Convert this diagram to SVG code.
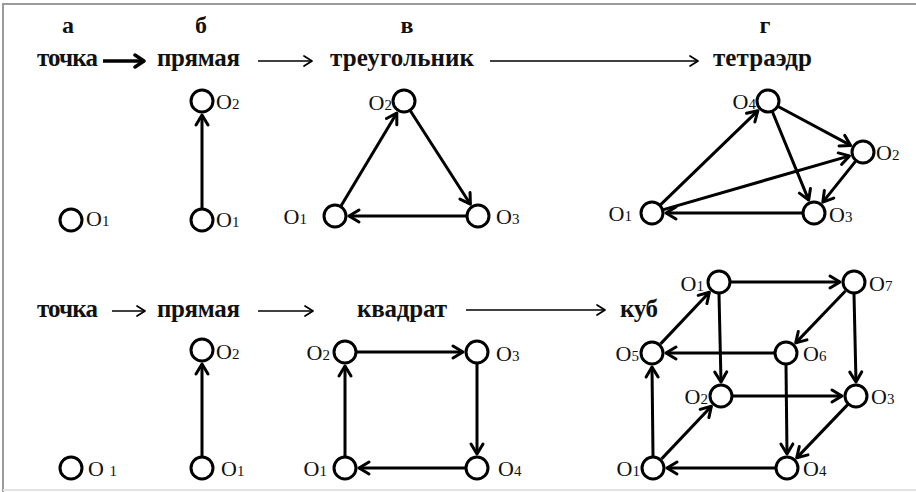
<svg xmlns="http://www.w3.org/2000/svg" width="916" height="492" viewBox="0 0 916 492">
<style>
.bg{fill:#ffffff}
.frame{stroke:#9a9a9a;stroke-width:2;fill:none}
.frame2{stroke:#e3e3e3;stroke-width:2;fill:none}
.t{font-family:"Liberation Serif","Times New Roman",serif;font-size:25px;font-weight:bold;fill:#111}
.h{font-family:"Liberation Serif","Times New Roman",serif;font-size:24px;font-weight:bold;fill:#111;text-anchor:middle}
.l{font-family:"Liberation Serif","Times New Roman",serif;font-size:22px;fill:#111}
.r{text-anchor:end}
.s{font-size:15px}
.n{fill:#ffffff;stroke:#000;stroke-width:3}
.e{stroke:#000;stroke-width:3;fill:none;marker-end:url(#ah)}
.ta{stroke:#000;stroke-width:1.6;fill:none;marker-end:url(#ahs)}
.tb{stroke:#000;stroke-width:3.5;fill:none;marker-end:url(#ahb)}
</style>
<defs>
<marker id="ah" viewBox="-13 -9 16 18" refX="0" refY="0" markerWidth="16" markerHeight="18" markerUnits="userSpaceOnUse" orient="auto">
<path d="M-10,-6 L0,0 L-10,6" fill="none" stroke="#000" stroke-width="3" stroke-linecap="round" stroke-linejoin="round"/>
</marker>
<marker id="ahs" viewBox="-12 -8 14 16" refX="0" refY="0" markerWidth="14" markerHeight="16" markerUnits="userSpaceOnUse" orient="auto">
<path d="M-8,-5 L0,0 L-8,5" fill="none" stroke="#000" stroke-width="1.7" stroke-linecap="round" stroke-linejoin="round"/>
</marker>
<marker id="ahb" viewBox="-14 -9 16 18" refX="0" refY="0" markerWidth="16" markerHeight="18" markerUnits="userSpaceOnUse" orient="auto">
<path d="M-9,-6 L0,0 L-9,6" fill="none" stroke="#000" stroke-width="3.5" stroke-linecap="round" stroke-linejoin="round"/>
</marker>
</defs>
<rect class="bg" x="0" y="0" width="916" height="492"/>
<path class="frame" d="M3,492 L3,4 L916,4"/>
<path class="frame2" d="M3,490 L916,490"/>

<g id="titles">
<text class="h" x="68" y="33">а</text>
<text class="h" x="201" y="33">б</text>
<text class="h" x="407" y="33">в</text>
<text class="h" x="765" y="33">г</text>
<text class="t" x="37" y="66" textLength="61">точка</text>
<text class="t" x="157" y="66" textLength="83">прямая</text>
<text class="t" x="330" y="66" textLength="144">треугольник</text>
<text class="t" x="713" y="66" textLength="99">тетраэдр</text>
<text class="t" x="37" y="317" textLength="61">точка</text>
<text class="t" x="157" y="317" textLength="83">прямая</text>
<text class="t" x="357" y="317" textLength="90">квадрат</text>
<text class="t" x="620" y="317" textLength="38">куб</text>
</g>

<g id="connectors">
<line class="tb" x1="103" y1="61" x2="144" y2="61"/>
<line class="ta" x1="258" y1="61" x2="312" y2="61"/>
<line class="ta" x1="490" y1="61" x2="698" y2="61"/>
<line class="ta" x1="112" y1="311" x2="145" y2="311"/>
<line class="ta" x1="258" y1="311" x2="313" y2="311"/>
<line class="ta" x1="466" y1="310" x2="605" y2="310"/>

<line class="e" x1="202" y1="209" x2="202" y2="115"/>

<line class="e" x1="340.7" y1="206.6" x2="396.8" y2="113"/>
<line class="e" x1="410" y1="110.3" x2="470.4" y2="204.2"/>
<line class="e" x1="467" y1="216" x2="349" y2="216"/>

<line class="e" x1="659.9" y1="205.4" x2="757.9" y2="110.7"/>
<line class="e" x1="662.6" y1="209.9" x2="849.5" y2="155.9"/>
<line class="e" x1="777.7" y1="106.2" x2="850.7" y2="145.4"/>
<line class="e" x1="772.2" y1="111.2" x2="808.7" y2="200.1"/>
<line class="e" x1="856.1" y1="160.6" x2="822.8" y2="202.1"/>
<line class="e" x1="803" y1="213" x2="666" y2="213"/>

<line class="e" x1="202" y1="457" x2="202" y2="364"/>

<line class="e" x1="345" y1="457" x2="345" y2="366"/>
<line class="e" x1="356" y1="352" x2="463" y2="352"/>
<line class="e" x1="477" y1="363" x2="477" y2="454"/>
<line class="e" x1="466" y1="468" x2="359" y2="468"/>

<line class="e" x1="660.6" y1="343.9" x2="709.4" y2="292.2"/>
<line class="e" x1="731" y1="282" x2="840" y2="282"/>
<line class="e" x1="719" y1="294" x2="721" y2="382"/>
<line class="e" x1="845.4" y1="291" x2="795.7" y2="342.9"/>
<line class="e" x1="854" y1="294" x2="856" y2="382"/>
<line class="e" x1="774" y1="353" x2="666" y2="353"/>
<line class="e" x1="786" y1="365" x2="787" y2="454"/>
<line class="e" x1="733" y1="396" x2="842" y2="396"/>
<line class="e" x1="848.4" y1="403.9" x2="796.7" y2="457.9"/>
<line class="e" x1="653" y1="456" x2="652" y2="367"/>
<line class="e" x1="661.6" y1="458.9" x2="711.4" y2="406.2"/>
<line class="e" x1="775" y1="468" x2="667" y2="468"/>
</g>

<g id="a1-O1"><circle class="n" cx="71" cy="220" r="11"/><text class="l" x="86" y="226">O<tspan class="s">1</tspan></text></g>

<g id="b1-O1"><circle class="n" cx="202" cy="220" r="11"/><text class="l" x="216" y="227">O<tspan class="s">1</tspan></text></g>
<g id="b1-O2"><circle class="n" cx="202" cy="101" r="11"/><text class="l" x="216" y="109">O<tspan class="s">2</tspan></text></g>

<g id="v1-O1"><circle class="n" cx="335" cy="216" r="11"/><text class="l r" x="307" y="224">O<tspan class="s">1</tspan></text></g>
<g id="v1-O2"><circle class="n" cx="404" cy="101" r="11"/><text class="l r" x="392" y="110">O<tspan class="s">2</tspan></text></g>
<g id="v1-O3"><circle class="n" cx="478" cy="216" r="11"/><text class="l" x="496" y="224">O<tspan class="s">3</tspan></text></g>

<g id="g1-O4"><circle class="n" cx="768" cy="101" r="11"/><text class="l r" x="756" y="109">O<tspan class="s">4</tspan></text></g>
<g id="g1-O2"><circle class="n" cx="863" cy="152" r="11"/><text class="l" x="876" y="160">O<tspan class="s">2</tspan></text></g>
<g id="g1-O1"><circle class="n" cx="652" cy="213" r="11"/><text class="l r" x="632" y="221">O<tspan class="s">1</tspan></text></g>
<g id="g1-O3"><circle class="n" cx="814" cy="213" r="11"/><text class="l" x="829" y="222">O<tspan class="s">3</tspan></text></g>

<g id="a2-O1"><circle class="n" cx="71" cy="468" r="11"/><text class="l" x="88" y="476">O <tspan class="s">1</tspan></text></g>

<g id="b2-O1"><circle class="n" cx="202" cy="468" r="11"/><text class="l" x="221" y="476">O<tspan class="s">1</tspan></text></g>
<g id="b2-O2"><circle class="n" cx="202" cy="350" r="11"/><text class="l" x="216" y="359">O<tspan class="s">2</tspan></text></g>

<g id="s-O2"><circle class="n" cx="345" cy="352" r="11"/><text class="l r" x="330" y="360">O<tspan class="s">2</tspan></text></g>
<g id="s-O3"><circle class="n" cx="477" cy="352" r="11"/><text class="l" x="496" y="361">O<tspan class="s">3</tspan></text></g>
<g id="s-O1"><circle class="n" cx="345" cy="468" r="11"/><text class="l r" x="327" y="476">O<tspan class="s">1</tspan></text></g>
<g id="s-O4"><circle class="n" cx="477" cy="468" r="11"/><text class="l" x="498" y="476">O<tspan class="s">4</tspan></text></g>

<g id="c-O1t"><circle class="n" cx="719" cy="282" r="11"/><text class="l r" x="704" y="291">O<tspan class="s">1</tspan></text></g>
<g id="c-O7"><circle class="n" cx="854" cy="282" r="11"/><text class="l" x="869" y="291">O<tspan class="s">7</tspan></text></g>
<g id="c-O5"><circle class="n" cx="652" cy="353" r="11"/><text class="l r" x="639" y="361">O<tspan class="s">5</tspan></text></g>
<g id="c-O6"><circle class="n" cx="786" cy="353" r="11"/><text class="l" x="803" y="361">O<tspan class="s">6</tspan></text></g>
<g id="c-O2"><circle class="n" cx="721" cy="396" r="11"/><text class="l r" x="708" y="404">O<tspan class="s">2</tspan></text></g>
<g id="c-O3"><circle class="n" cx="856" cy="396" r="11"/><text class="l" x="871" y="404">O<tspan class="s">3</tspan></text></g>
<g id="c-O1b"><circle class="n" cx="653" cy="468" r="11"/><text class="l r" x="640" y="476">O<tspan class="s">1</tspan></text></g>
<g id="c-O4"><circle class="n" cx="787" cy="468" r="11"/><text class="l" x="803" y="476">O<tspan class="s">4</tspan></text></g>
</svg>
